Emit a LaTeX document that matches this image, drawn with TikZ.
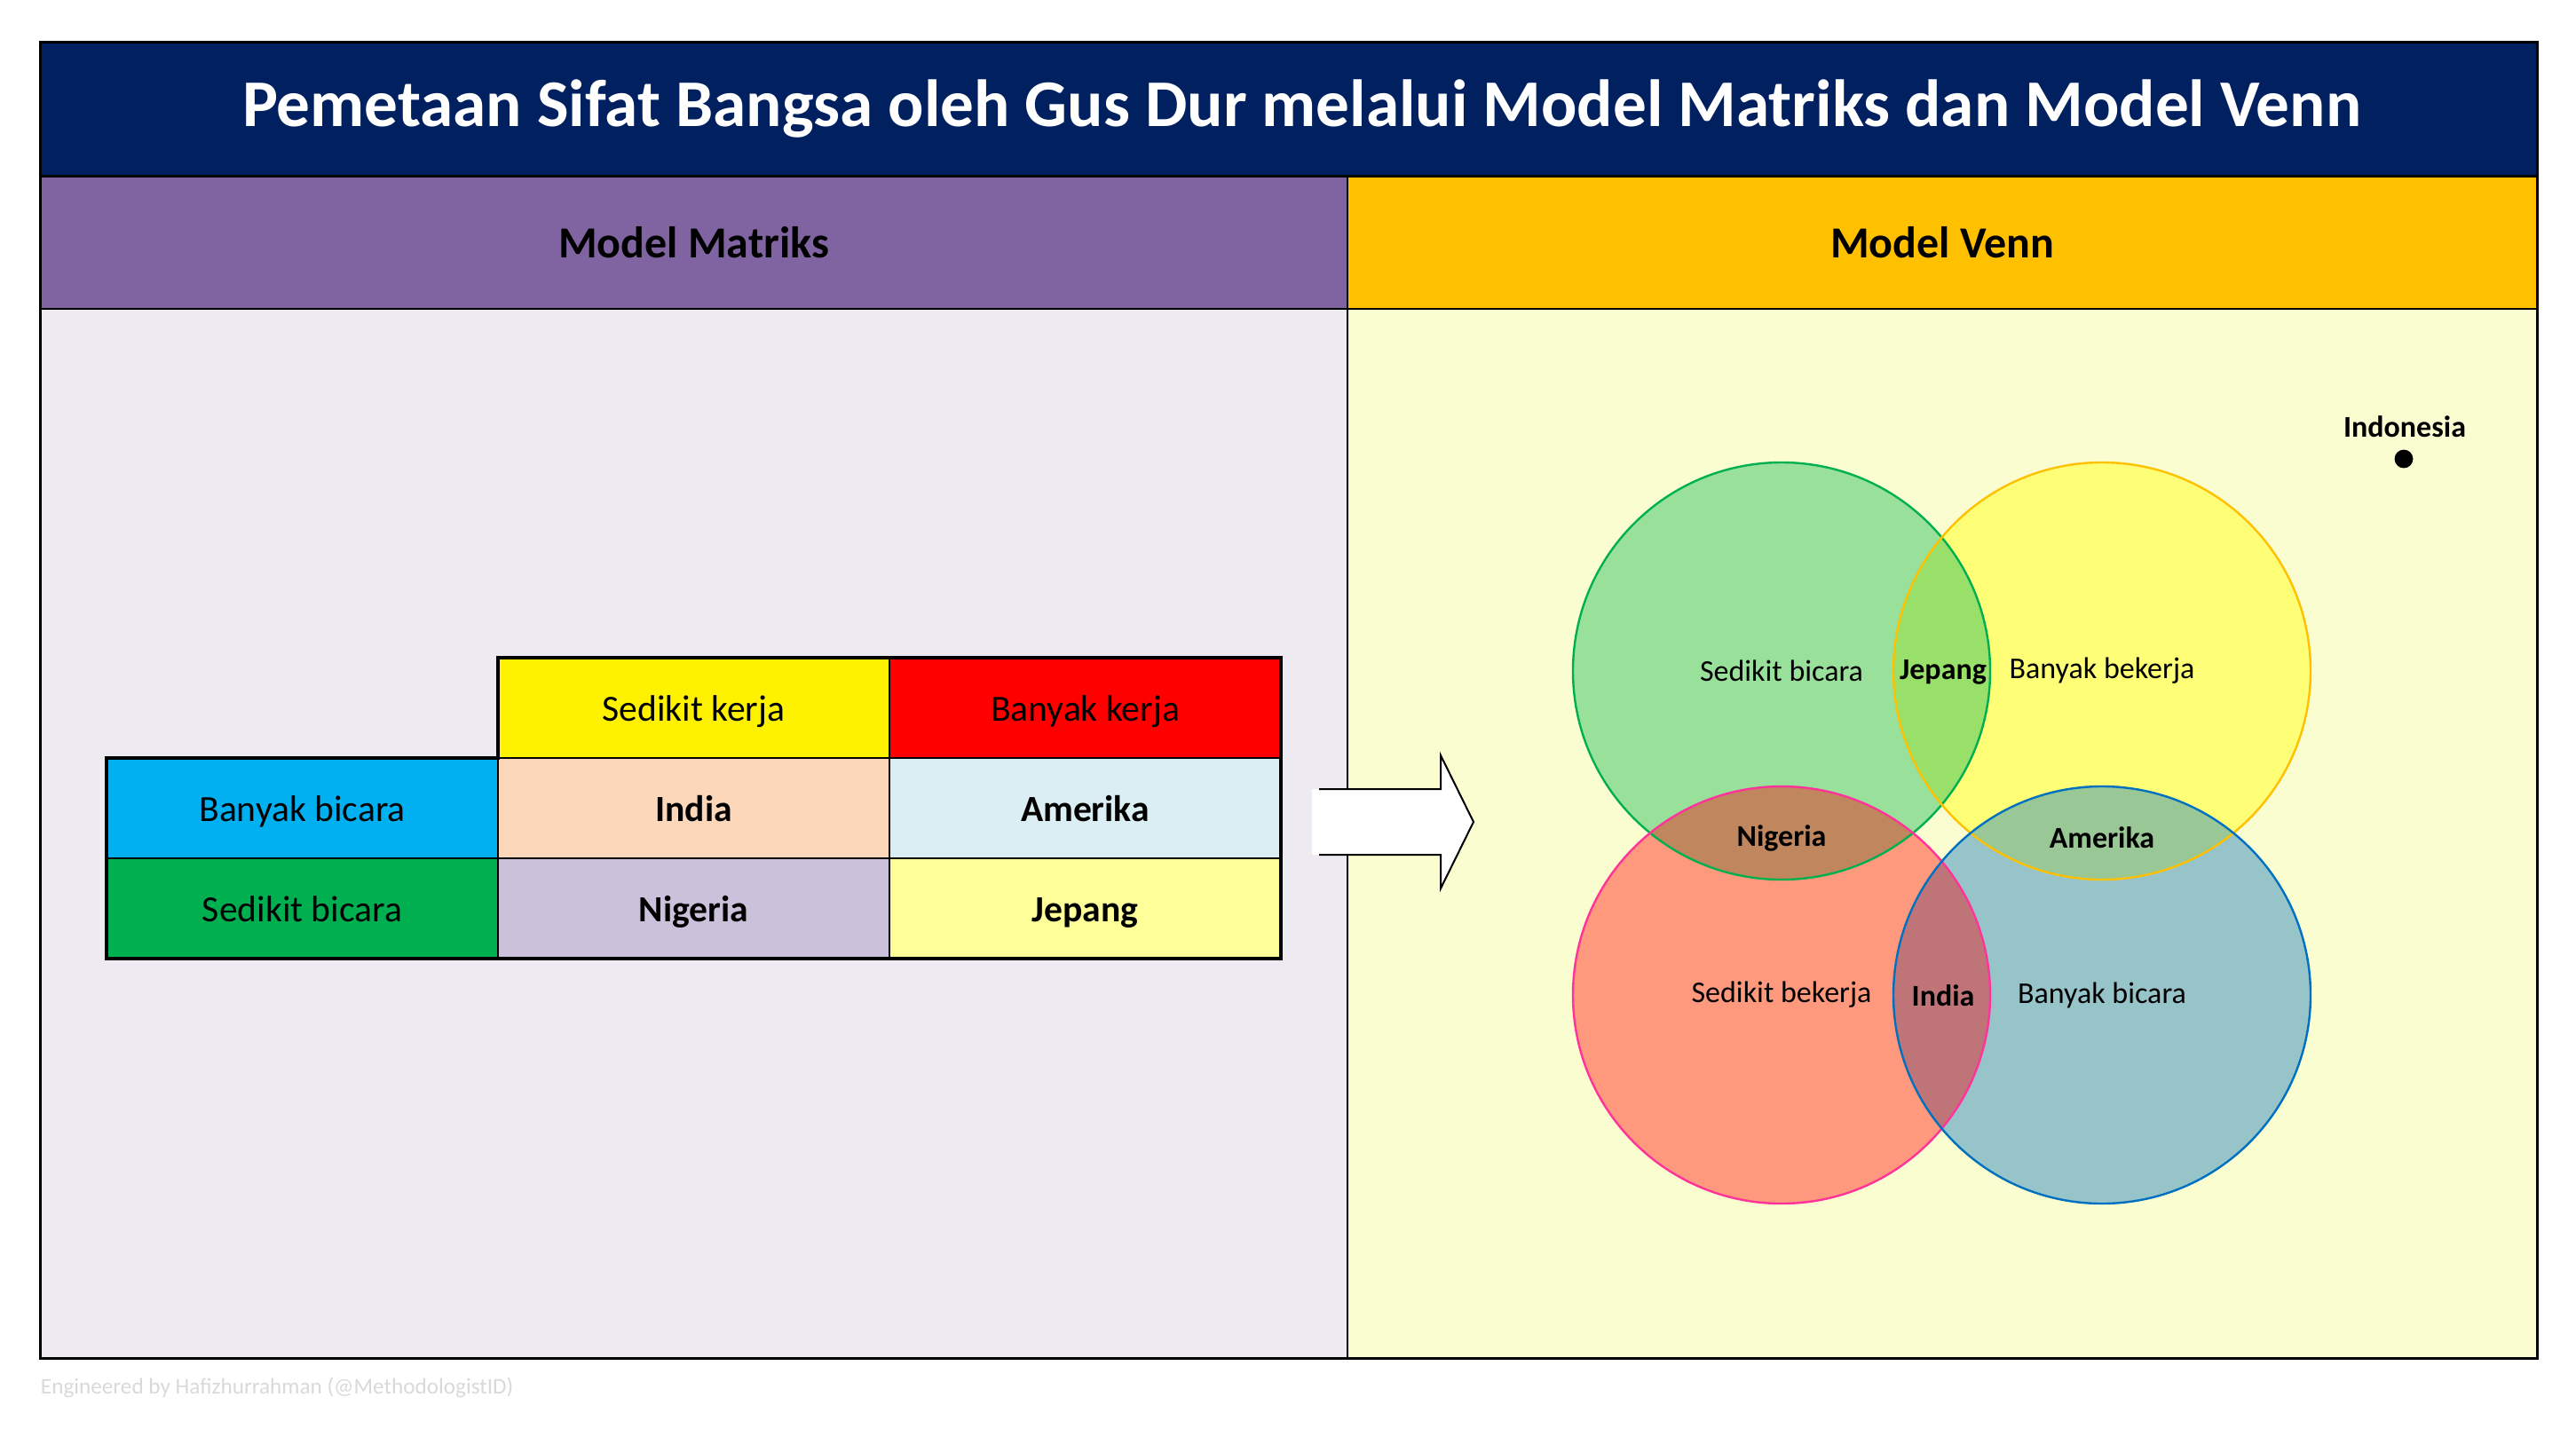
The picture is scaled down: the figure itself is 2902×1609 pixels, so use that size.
\documentclass[tikz,border=0pt]{standalone}
\usepackage{fontspec}
\setmainfont{Carlito}
\usetikzlibrary{positioning}

\definecolor{navy}{RGB}{0,32,96}
\definecolor{headpurple}{RGB}{128,100,162}
\definecolor{headgold}{RGB}{255,192,0}
\definecolor{bodyleft}{RGB}{237,234,241}
\definecolor{bodyright}{RGB}{250,253,208}
\definecolor{cellblue}{RGB}{0,176,240}
\definecolor{cellgreen}{RGB}{0,176,80}
\definecolor{cellpeach}{RGB}{252,215,186}
\definecolor{cellice}{RGB}{219,238,244}
\definecolor{celllilac}{RGB}{204,193,218}
\definecolor{cellcream}{RGB}{255,255,153}
\definecolor{vgreen}{RGB}{153,224,155}
\definecolor{vyellow}{RGB}{255,255,119}
\definecolor{vred}{RGB}{255,153,126}
\definecolor{vblue}{RGB}{150,196,201}
\definecolor{lensgy}{RGB}{153,224,107}
\definecolor{lensgr}{RGB}{192,134,93}
\definecolor{lensyb}{RGB}{153,199,150}
\definecolor{lensrb}{RGB}{191,117,120}
\definecolor{edgegreen}{RGB}{0,176,80}
\definecolor{edgegold}{RGB}{255,192,0}
\definecolor{edgepink}{RGB}{255,51,153}
\definecolor{edgeblue}{RGB}{0,112,192}
\definecolor{footgrey}{RGB}{217,217,217}

\begin{document}
\begin{tikzpicture}[x=0.25pt,y=-0.25pt,inner sep=0pt,outer sep=0pt]
\tikzstyle{head}=[minimum height=37.5pt,font=\bfseries\fontsize{12.5}{15}\selectfont]
\tikzstyle{cell}=[draw=black,line width=0.5pt,minimum width=110.25pt,minimum height=28.25pt,
  text height=0.85em,text depth=0.1em,font=\fontsize{10.4}{12}\selectfont]
\tikzstyle{vtext}=[font=\fontsize{8.5}{10}\selectfont]
\tikzstyle{vbold}=[font=\bfseries\fontsize{8.5}{10}\selectfont]
\def\vr{58.75pt}
\useasboundingbox (0,0) rectangle (2902,1609);
% panels
\fill[bodyleft] (45,348) rectangle (1518,1530);
\fill[bodyright] (1518,348) rectangle (2858,1530);
\node[fill=navy,anchor=north west,minimum width=703.25pt,minimum height=37.75pt] (title) at (45,47) {};
\node[text=white,font=\bfseries\fontsize{18.8}{22}\selectfont] (titletext) at ([xshift=3.75pt]title.center)
  {Pemetaan Sifat Bangsa oleh Gus Dur melalui Model Matriks dan Model Venn};
\node[head,fill=headpurple,minimum width=368.25pt,below right=0pt and 0pt of title.south west] (matrixhead) {Model Matriks};
\node[head,fill=headgold,minimum width=335pt,right=0pt of matrixhead] (vennhead) {Model Venn};
\draw[line width=0.75pt] (title.south west) -- (title.south east);
\draw[line width=0.6pt] (matrixhead.south west) -- (vennhead.south east);
\draw[line width=0.4pt] (vennhead.north west) -- (1518,1530);
\draw[line width=0.75pt] (45,47) rectangle (2858,1530);

% matrix
\node[cell,fill=cellblue] (bbicara) at (340.5,910.5) {Banyak bicara};
\node[cell,fill=cellpeach,right=0pt of bbicara,font=\bfseries\fontsize{10.4}{12}\selectfont] (india) {India};
\node[cell,fill=cellice,right=0pt of india,font=\bfseries\fontsize{10.4}{12}\selectfont] (amerika) {Amerika};
\node[cell,fill=cellgreen,below=0pt of bbicara] (sbicara) {Sedikit bicara};
\node[cell,fill=celllilac,right=0pt of sbicara,font=\bfseries\fontsize{10.4}{12}\selectfont] (nigeria) {Nigeria};
\node[cell,fill=cellcream,right=0pt of nigeria,font=\bfseries\fontsize{10.4}{12}\selectfont] (jepang) {Jepang};
\node[cell,fill=yellow,above=0pt of india] (skerja) {Sedikit kerja};
\node[cell,fill=red,above=0pt of amerika] (bkerja) {Banyak kerja};
\draw[line width=0.8pt] (skerja.north west) -- (bkerja.north east) -- (jepang.south east)
  -- (sbicara.south west) -- (bbicara.north west) -- (india.north west) -- cycle;

% arrow
\fill[white] (1478,889) -- (1623,889) -- (1623,851) -- (1660,926) -- (1623,1001) -- (1623,963) -- (1478,963) -- cycle;
\draw[line width=0.5pt] (1486,889) -- (1623,889) -- (1623,851) -- (1660,926) -- (1623,1001) -- (1623,963) -- (1486,963);

% venn
\coordinate (cg) at (2007,756);
\coordinate (cy) at (2368,756);
\coordinate (cr) at (2007,1121);
\coordinate (cb) at (2368,1121);
\fill[vgreen] (cg) circle[radius=\vr];
\fill[vyellow] (cy) circle[radius=\vr];
\fill[vred] (cr) circle[radius=\vr];
\fill[vblue] (cb) circle[radius=\vr];
\begin{scope}
\clip (cg) circle[radius=\vr];
\fill[lensgy] (cy) circle[radius=\vr];
\fill[lensgr] (cr) circle[radius=\vr];
\end{scope}
\begin{scope}
\clip (cb) circle[radius=\vr];
\fill[lensyb] (cy) circle[radius=\vr];
\fill[lensrb] (cr) circle[radius=\vr];
\end{scope}
\draw[edgegreen,line width=0.6pt] (cg) circle[radius=\vr];
\draw[edgegold,line width=0.6pt] (cy) circle[radius=\vr];
\draw[edgepink,line width=0.6pt] (cr) circle[radius=\vr];
\draw[edgeblue,line width=0.6pt] (cb) circle[radius=\vr];
\node[vtext] (lsbicara) at (cg) {Sedikit bicara};
\node[vtext] (lbbekerja) at (cy) {Banyak bekerja};
\node[vtext] (lsbekerja) at (cr) {Sedikit bekerja};
\node[vtext] (lbbicara) at (cb) {Banyak bicara};
\node[vbold] (ljepang) at (2189,757) {Jepang};
\node[vbold] (lindia) at (2189,1122) {India};
\node[vbold] (lnigeria) at (2007,944) {Nigeria};
\node[vbold] (lamerika) at (2368,944) {Amerika};
\node[vbold] (lindonesia) at (2709,481) {Indonesia};
\fill (2708,517) circle[radius=2.6pt];

\node[anchor=west,text=footgrey,font=\fontsize{6.3}{7}\selectfont] (credit) at (46,1563) {Engineered by Hafizhurrahman (@MethodologistID)};
\end{tikzpicture}
\end{document}
